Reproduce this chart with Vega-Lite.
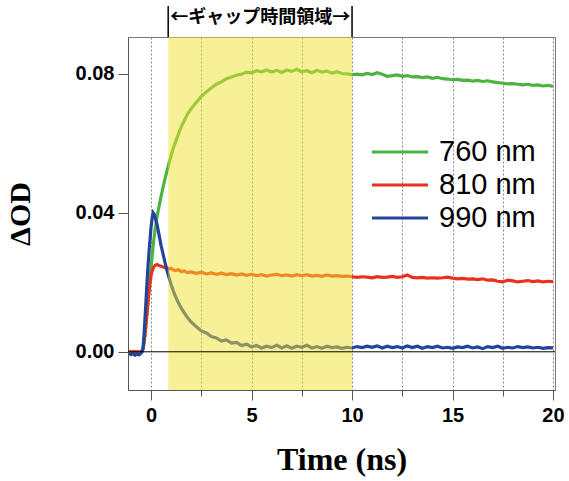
{
  "$schema": "https://vega.github.io/schema/vega-lite/v6.json",
  "width": 427,
  "height": 353,
  "autosize": {"type": "none"},
  "padding": {"left": 128, "top": 37, "right": 14, "bottom": 91},
  "background": "white",
  "config": {
    "view": {"stroke": "#777", "strokeWidth": 1},
    "axis": {"labelColor": "black", "titleColor": "black", "domainColor": "#555", "tickColor": "#555"}
  },
  "data": {"values": [
    {"t": -1.1, "760 nm": 0.0000, "810 nm": 0.0002, "990 nm": -0.0004},
    {"t": -1.0, "760 nm": -0.0003, "810 nm": 0.0000, "990 nm": -0.0008},
    {"t": -0.9, "760 nm": 0.0001, "810 nm": -0.0002, "990 nm": -0.0005},
    {"t": -0.8, "760 nm": -0.0002, "810 nm": 0.0001, "990 nm": -0.0010},
    {"t": -0.7, "760 nm": 0.0000, "810 nm": -0.0001, "990 nm": -0.0006},
    {"t": -0.6, "760 nm": -0.0001, "810 nm": 0.0000, "990 nm": -0.0009},
    {"t": -0.5, "760 nm": 0.0001, "810 nm": 0.0001, "990 nm": -0.0004},
    {"t": -0.45, "760 nm": 0.0003, "810 nm": 0.0003, "990 nm": 0.0000},
    {"t": -0.4, "760 nm": 0.0008, "810 nm": 0.0008, "990 nm": 0.0012},
    {"t": -0.35, "760 nm": 0.0025, "810 nm": 0.0030, "990 nm": 0.0050},
    {"t": -0.3, "760 nm": 0.0050, "810 nm": 0.0055, "990 nm": 0.0100},
    {"t": -0.25, "760 nm": 0.0080, "810 nm": 0.0085, "990 nm": 0.0150},
    {"t": -0.2, "760 nm": 0.0115, "810 nm": 0.0115, "990 nm": 0.0205},
    {"t": -0.15, "760 nm": 0.0150, "810 nm": 0.0145, "990 nm": 0.0250},
    {"t": -0.1, "760 nm": 0.0185, "810 nm": 0.0175, "990 nm": 0.0290},
    {"t": -0.05, "760 nm": 0.0215, "810 nm": 0.0200, "990 nm": 0.0325},
    {"t": 0.0, "760 nm": 0.0245, "810 nm": 0.0220, "990 nm": 0.0360},
    {"t": 0.05, "760 nm": 0.0275, "810 nm": 0.0232, "990 nm": 0.0385},
    {"t": 0.1, "760 nm": 0.0305, "810 nm": 0.0240, "990 nm": 0.0400},
    {"t": 0.15, "760 nm": 0.0330, "810 nm": 0.0246, "990 nm": 0.0396},
    {"t": 0.2, "760 nm": 0.0352, "810 nm": 0.0249, "990 nm": 0.0386},
    {"t": 0.3, "760 nm": 0.0390, "810 nm": 0.0251, "990 nm": 0.0365},
    {"t": 0.4, "760 nm": 0.0420, "810 nm": 0.0248, "990 nm": 0.0335},
    {"t": 0.5, "760 nm": 0.0448, "810 nm": 0.0246, "990 nm": 0.0305},
    {"t": 0.6, "760 nm": 0.0475, "810 nm": 0.0244, "990 nm": 0.0280},
    {"t": 0.7, "760 nm": 0.0500, "810 nm": 0.0242, "990 nm": 0.0255},
    {"t": 0.8, "760 nm": 0.0522, "810 nm": 0.0241, "990 nm": 0.0232},
    {"t": 0.9, "760 nm": 0.0545, "810 nm": 0.0238, "990 nm": 0.0212},
    {"t": 1.0, "760 nm": 0.0565, "810 nm": 0.0240, "990 nm": 0.0193},
    {"t": 1.1, "760 nm": 0.0585, "810 nm": 0.0236, "990 nm": 0.0176},
    {"t": 1.2, "760 nm": 0.0602, "810 nm": 0.0234, "990 nm": 0.0161},
    {"t": 1.35, "760 nm": 0.0625, "810 nm": 0.0236, "990 nm": 0.0142},
    {"t": 1.5, "760 nm": 0.0648, "810 nm": 0.0231, "990 nm": 0.0126},
    {"t": 1.65, "760 nm": 0.0665, "810 nm": 0.0233, "990 nm": 0.0112},
    {"t": 1.8, "760 nm": 0.0683, "810 nm": 0.0228, "990 nm": 0.0099},
    {"t": 2.0, "760 nm": 0.0700, "810 nm": 0.0230, "990 nm": 0.0085},
    {"t": 2.25, "760 nm": 0.0718, "810 nm": 0.0226, "990 nm": 0.0072},
    {"t": 2.5, "760 nm": 0.0735, "810 nm": 0.0229, "990 nm": 0.0060},
    {"t": 2.75, "760 nm": 0.0748, "810 nm": 0.0224, "990 nm": 0.0054},
    {"t": 3.0, "760 nm": 0.0760, "810 nm": 0.0227, "990 nm": 0.0044},
    {"t": 3.25, "760 nm": 0.0770, "810 nm": 0.0223, "990 nm": 0.0040},
    {"t": 3.5, "760 nm": 0.0777, "810 nm": 0.0226, "990 nm": 0.0031},
    {"t": 3.75, "760 nm": 0.0786, "810 nm": 0.0222, "990 nm": 0.0034},
    {"t": 4.0, "760 nm": 0.0791, "810 nm": 0.0225, "990 nm": 0.0025},
    {"t": 4.25, "760 nm": 0.0796, "810 nm": 0.0221, "990 nm": 0.0027},
    {"t": 4.5, "760 nm": 0.0799, "810 nm": 0.0224, "990 nm": 0.0018},
    {"t": 4.75, "760 nm": 0.0805, "810 nm": 0.0220, "990 nm": 0.0022},
    {"t": 5.0, "760 nm": 0.0803, "810 nm": 0.0223, "990 nm": 0.0014},
    {"t": 5.25, "760 nm": 0.0809, "810 nm": 0.0219, "990 nm": 0.0018},
    {"t": 5.5, "760 nm": 0.0806, "810 nm": 0.0222, "990 nm": 0.0011},
    {"t": 5.75, "760 nm": 0.0811, "810 nm": 0.0218, "990 nm": 0.0016},
    {"t": 6.0, "760 nm": 0.0805, "810 nm": 0.0221, "990 nm": 0.0012},
    {"t": 6.25, "760 nm": 0.0810, "810 nm": 0.0223, "990 nm": 0.0019},
    {"t": 6.5, "760 nm": 0.0804, "810 nm": 0.0219, "990 nm": 0.0011},
    {"t": 6.75, "760 nm": 0.0811, "810 nm": 0.0221, "990 nm": 0.0017},
    {"t": 7.0, "760 nm": 0.0807, "810 nm": 0.0218, "990 nm": 0.0010},
    {"t": 7.25, "760 nm": 0.0813, "810 nm": 0.0222, "990 nm": 0.0016},
    {"t": 7.5, "760 nm": 0.0806, "810 nm": 0.0219, "990 nm": 0.0013},
    {"t": 7.75, "760 nm": 0.0809, "810 nm": 0.0222, "990 nm": 0.0019},
    {"t": 8.0, "760 nm": 0.0803, "810 nm": 0.0218, "990 nm": 0.0011},
    {"t": 8.25, "760 nm": 0.0810, "810 nm": 0.0220, "990 nm": 0.0015},
    {"t": 8.5, "760 nm": 0.0805, "810 nm": 0.0217, "990 nm": 0.0010},
    {"t": 8.75, "760 nm": 0.0808, "810 nm": 0.0221, "990 nm": 0.0016},
    {"t": 9.0, "760 nm": 0.0802, "810 nm": 0.0218, "990 nm": 0.0012},
    {"t": 9.25, "760 nm": 0.0806, "810 nm": 0.0219, "990 nm": 0.0014},
    {"t": 9.5, "760 nm": 0.0801, "810 nm": 0.0217, "990 nm": 0.0010},
    {"t": 9.75, "760 nm": 0.0800, "810 nm": 0.0218, "990 nm": 0.0013},
    {"t": 10.0, "760 nm": 0.0798, "810 nm": 0.0216, "990 nm": 0.0011},
    {"t": 10.25, "760 nm": 0.0799, "810 nm": 0.0214, "990 nm": 0.0015},
    {"t": 10.5, "760 nm": 0.0797, "810 nm": 0.0216, "990 nm": 0.0012},
    {"t": 10.75, "760 nm": 0.0801, "810 nm": 0.0215, "990 nm": 0.0016},
    {"t": 11.0, "760 nm": 0.0798, "810 nm": 0.0213, "990 nm": 0.0013},
    {"t": 11.25, "760 nm": 0.0803, "810 nm": 0.0216, "990 nm": 0.0017},
    {"t": 11.5, "760 nm": 0.0799, "810 nm": 0.0214, "990 nm": 0.0011},
    {"t": 11.75, "760 nm": 0.0793, "810 nm": 0.0215, "990 nm": 0.0016},
    {"t": 12.0, "760 nm": 0.0795, "810 nm": 0.0217, "990 nm": 0.0012},
    {"t": 12.25, "760 nm": 0.0797, "810 nm": 0.0214, "990 nm": 0.0015},
    {"t": 12.5, "760 nm": 0.0793, "810 nm": 0.0216, "990 nm": 0.0011},
    {"t": 12.75, "760 nm": 0.0795, "810 nm": 0.0221, "990 nm": 0.0017},
    {"t": 13.0, "760 nm": 0.0791, "810 nm": 0.0214, "990 nm": 0.0012},
    {"t": 13.25, "760 nm": 0.0792, "810 nm": 0.0213, "990 nm": 0.0016},
    {"t": 13.5, "760 nm": 0.0789, "810 nm": 0.0214, "990 nm": 0.0010},
    {"t": 13.75, "760 nm": 0.0791, "810 nm": 0.0212, "990 nm": 0.0015},
    {"t": 14.0, "760 nm": 0.0787, "810 nm": 0.0213, "990 nm": 0.0012},
    {"t": 14.25, "760 nm": 0.0790, "810 nm": 0.0212, "990 nm": 0.0016},
    {"t": 14.5, "760 nm": 0.0786, "810 nm": 0.0213, "990 nm": 0.0011},
    {"t": 14.75, "760 nm": 0.0785, "810 nm": 0.0215, "990 nm": 0.0013},
    {"t": 15.0, "760 nm": 0.0783, "810 nm": 0.0212, "990 nm": 0.0010},
    {"t": 15.25, "760 nm": 0.0784, "810 nm": 0.0210, "990 nm": 0.0014},
    {"t": 15.5, "760 nm": 0.0781, "810 nm": 0.0211, "990 nm": 0.0012},
    {"t": 15.75, "760 nm": 0.0782, "810 nm": 0.0209, "990 nm": 0.0016},
    {"t": 16.0, "760 nm": 0.0779, "810 nm": 0.0210, "990 nm": 0.0011},
    {"t": 16.25, "760 nm": 0.0781, "810 nm": 0.0208, "990 nm": 0.0014},
    {"t": 16.5, "760 nm": 0.0778, "810 nm": 0.0210, "990 nm": 0.0009},
    {"t": 16.75, "760 nm": 0.0780, "810 nm": 0.0206, "990 nm": 0.0015},
    {"t": 17.0, "760 nm": 0.0777, "810 nm": 0.0207, "990 nm": 0.0012},
    {"t": 17.25, "760 nm": 0.0775, "810 nm": 0.0203, "990 nm": 0.0016},
    {"t": 17.5, "760 nm": 0.0773, "810 nm": 0.0201, "990 nm": 0.0010},
    {"t": 17.75, "760 nm": 0.0771, "810 nm": 0.0206, "990 nm": 0.0013},
    {"t": 18.0, "760 nm": 0.0772, "810 nm": 0.0204, "990 nm": 0.0011},
    {"t": 18.25, "760 nm": 0.0770, "810 nm": 0.0201, "990 nm": 0.0015},
    {"t": 18.5, "760 nm": 0.0768, "810 nm": 0.0203, "990 nm": 0.0012},
    {"t": 18.75, "760 nm": 0.0770, "810 nm": 0.0205, "990 nm": 0.0014},
    {"t": 19.0, "760 nm": 0.0767, "810 nm": 0.0202, "990 nm": 0.0011},
    {"t": 19.25, "760 nm": 0.0768, "810 nm": 0.0204, "990 nm": 0.0013},
    {"t": 19.5, "760 nm": 0.0765, "810 nm": 0.0201, "990 nm": 0.0010},
    {"t": 19.75, "760 nm": 0.0767, "810 nm": 0.0203, "990 nm": 0.0012},
    {"t": 20.0, "760 nm": 0.0764, "810 nm": 0.0202, "990 nm": 0.0011}
  ]},
  "layer": [
    {
      "transform": [{"fold": ["760 nm", "810 nm", "990 nm"], "as": ["series", "value"]}],
      "mark": {"type": "line", "strokeWidth": 3.2},
      "encoding": {
        "x": {"field": "t", "type": "quantitative",
          "scale": {"domain": [-1.15, 20.1], "nice": false, "zero": false},
          "axis": {
            "values": [0, 2.5, 5, 7.5, 10, 12.5, 15, 17.5, 20],
            "labelExpr": "datum.value % 5 === 0 ? datum.label : ''",
            "grid": true, "gridDash": [2, 2], "gridColor": "#888", "gridWidth": 1,
            "tickSize": {"condition": {"test": "datum.value % 5 === 0", "value": 10}, "value": 6},
            "labelFont": "Liberation Sans", "labelFontWeight": "bold", "labelFontSize": 20,
            "labelPadding": 5, "labelOverlap": false, "labelFlush": false,
            "title": "Time (ns)", "titleFont": "Liberation Serif", "titleFontWeight": "bold",
            "titleFontSize": 32, "titlePadding": 19
          }},
        "y": {"field": "value", "type": "quantitative",
          "scale": {"domain": [-0.011, 0.0906], "nice": false, "zero": false},
          "axis": {
            "values": [0, 0.04, 0.08], "format": ".2f", "grid": false,
            "tickSize": 10,
            "labelFont": "Liberation Sans", "labelFontWeight": "bold", "labelFontSize": 20,
            "labelPadding": 4,
            "title": "ΔOD", "titleFont": "Liberation Serif", "titleFontWeight": "bold",
            "titleFontSize": 30, "titlePadding": 40
          }},
        "color": {"field": "series", "type": "nominal",
          "scale": {"domain": ["760 nm", "810 nm", "990 nm"], "range": ["#4cb340", "#e8321e", "#22449a"]},
          "legend": {
            "title": null, "orient": "none", "legendX": 254, "legendY": 97,
            "symbolType": "M-1.7,0H1.7", "symbolSize": 1089, "symbolStrokeWidth": 3,
            "labelFont": "Liberation Sans", "labelFontSize": 29, "labelColor": "black",
            "labelOffset": 21, "rowPadding": 0
          }}
      }
    },
    {
      "data": {"values": [{"start": 0.85, "end": 10}]},
      "mark": {"type": "rect", "color": "#f1e12d", "opacity": 0.5},
      "encoding": {
        "x": {"field": "start", "type": "quantitative", "scale": {"domain": [-1.15, 20.1], "nice": false, "zero": false}},
        "x2": {"field": "end"}
      }
    },
    {
      "data": {"values": [{"level": 0}]},
      "mark": {"type": "rule", "color": "black", "strokeWidth": 1},
      "encoding": {
        "y": {"field": "level", "type": "quantitative", "scale": {"domain": [-0.011, 0.0906], "nice": false, "zero": false}}
      }
    },
    {
      "data": {"values": [{"edge": 0.85}, {"edge": 10}]},
      "mark": {"type": "rule", "color": "black", "strokeWidth": 1.5, "clip": false},
      "encoding": {
        "x": {"field": "edge", "type": "quantitative", "scale": {"domain": [-1.15, 20.1], "nice": false, "zero": false}},
        "y": {"datum": 0.0906, "type": "quantitative", "scale": {"domain": [-0.011, 0.0906], "nice": false, "zero": false}},
        "y2": {"datum": 0.0995}
      }
    },
    {
      "data": {"values": [{"label": "←ギャップ時間領域→"}]},
      "mark": {"type": "text", "font": "Noto Sans CJK JP", "fontWeight": "bold", "fontSize": 18, "baseline": "middle", "align": "center", "color": "black", "clip": false},
      "encoding": {
        "text": {"field": "label"},
        "x": {"datum": 5.43, "type": "quantitative", "scale": {"domain": [-1.15, 20.1], "nice": false, "zero": false}},
        "y": {"datum": 0.0961, "type": "quantitative", "scale": {"domain": [-0.011, 0.0906], "nice": false, "zero": false}}
      }
    }
  ]
}
